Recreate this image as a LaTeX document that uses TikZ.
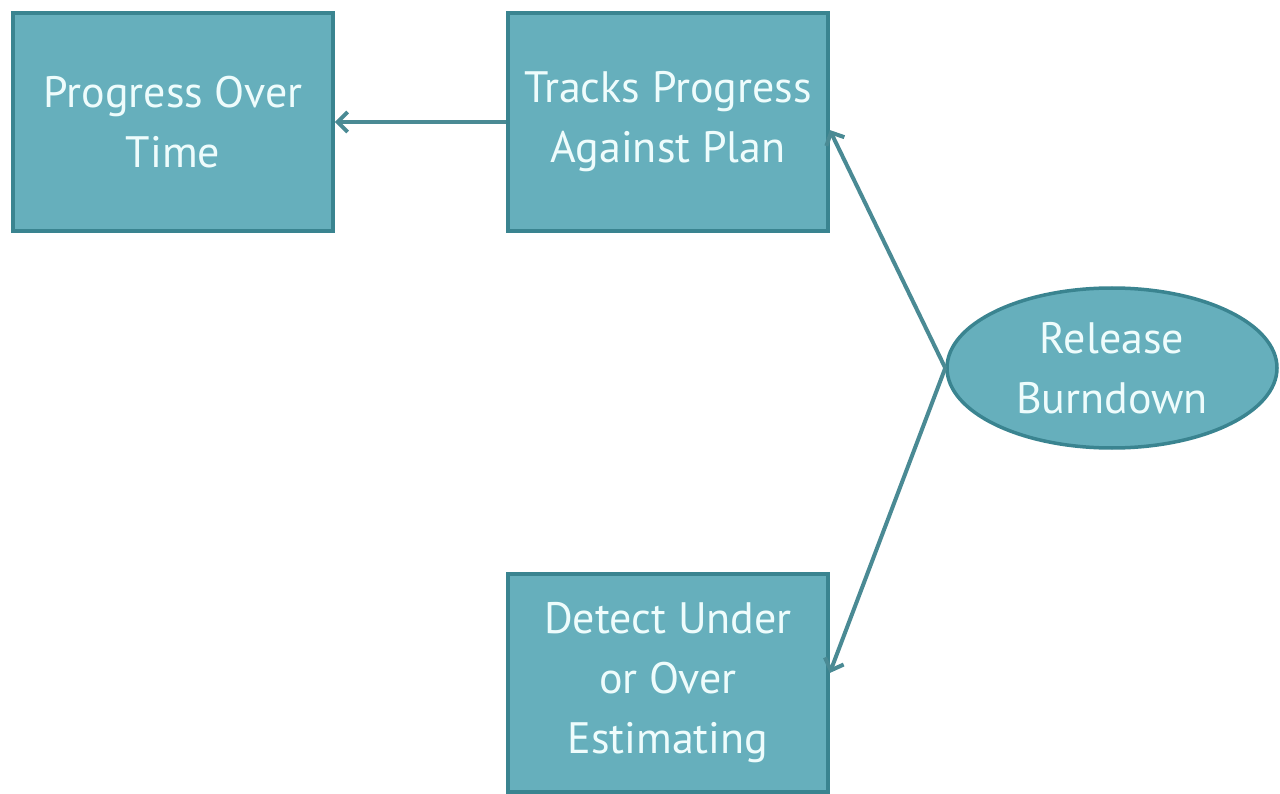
\documentclass[tikz,border=0pt]{standalone}
\usepackage{fontspec}
\setmainfont{PT Sans}
\usetikzlibrary{arrows.meta,shapes.geometric}
\definecolor{boxfill}{HTML}{66AFBC}
\definecolor{boxline}{HTML}{3A8490}
\definecolor{boxtext}{HTML}{EEFCFC}
\definecolor{linkcol}{HTML}{4A8A94}
\tikzset{
  box/.style={draw=boxline, line width=3.5pt, fill=boxfill, text=boxtext,
    minimum width=320pt, minimum height=218pt, align=center, inner sep=0pt,
    font=\fontsize{44}{60}\selectfont},
  oval/.style={ellipse, draw=boxline, line width=3.5pt, fill=boxfill, text=boxtext,
    minimum width=330pt, minimum height=160pt, align=center, inner sep=0pt,
    font=\fontsize{44}{60}\selectfont},
  link/.style={draw=linkcol, line width=4pt, -{Straight Barb[length=10pt,width=20pt,line width=4pt]}}
}
\begin{document}
\begin{tikzpicture}[x=1pt,y=-1pt]
  \useasboundingbox (0,0) rectangle (1280,794);
  \fill[white] (0,0) rectangle (1280,794);
  \node[box] (pot) at (173,122) {Progress Over\\Time};
  \node[box] (tpp) at (668,122) {Tracks Progress\\Against Plan};
  \node[box] (due) at (668,683) {Detect Under\\or Over\\Estimating};
  \node[oval] (rb) at (1112,368) {Release\\Burndown};
  \coordinate (tppin) at ([yshift=-8pt]tpp.east);
  \coordinate (duein) at ([yshift=10pt]due.east);
  \draw[link] (tpp.west) -- (pot.east);
  \draw[link] (rb.west) -- (tppin);
  \draw[link] (rb.west) -- (duein);
\end{tikzpicture}
\end{document}
